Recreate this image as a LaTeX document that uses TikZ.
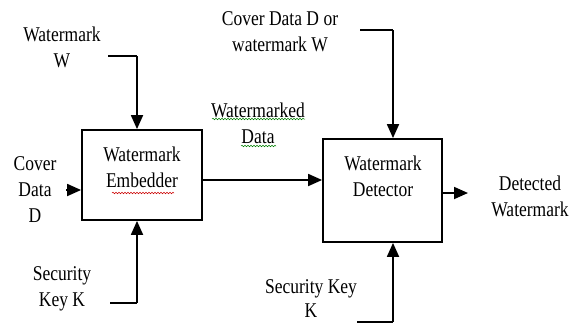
\documentclass[tikz,border=0pt]{standalone}
\usepackage{fontspec}
\usepackage{graphicx}
\setmainfont{Liberation Serif}
\usetikzlibrary{arrows.meta,decorations.pathmorphing}
\newcommand{\st}[1]{\scalebox{1}[1.2]{#1}}
\begin{document}
\begin{tikzpicture}[x=1pt,y=-1pt,
  lbl/.style={align=center,font=\fontsize{17.5}{26}\selectfont,inner sep=0pt},
  blk/.style={draw,line width=1.8pt,inner sep=0pt},
  ln/.style={line width=1.8pt},
  arr/.style={line width=1.8pt,-{Triangle[width=12pt,length=14pt]}},
  squig/.style={decorate,decoration={snake,amplitude=0.8pt,segment length=3pt},line width=0.5pt}]
\useasboundingbox (0,0) rectangle (580,324);
\fill[white] (0,0) rectangle (580,324);
% blocks
\node[blk,minimum width=120pt,minimum height=90pt] (emb) at (142,175) {};
\node[lbl] (embt) at (142,167) {\st{Watermark}\\\st{Embedder}};
\node[blk,minimum width=119pt,minimum height=103pt] (det) at (382.5,190.5) {};
\node[lbl] (dett) at (383,176) {\st{Watermark}\\\st{Detector}};
% labels
\node[lbl] (wm) at (62,47) {\st{Watermark}\\\st{W}};
\node[lbl] (cov) at (35,190) {\st{Cover}\\\st{Data}\\\st{D}};
\node[lbl] (sk1) at (62,289) {\st{Security}\\\st{Key K}};
\node[lbl,font=\fontsize{17.5}{24}\selectfont] (sk2) at (311,299) {\st{Security Key}\\\st{K}};
\node[lbl] (wd) at (258,123) {\st{Watermarked}\\\st{Data}};
\node[lbl] (cdw) at (280,32) {\st{Cover Data D or}\\\st{watermark W}};
\node[lbl] (dw) at (530,196) {\st{Detected}\\\st{Watermark}};
% coordinates
\coordinate (w1) at (108,56);
\coordinate (w2) at (137,56);
\coordinate (k1) at (110,303);
\coordinate (k2) at (137,303);
\coordinate (c1) at (360,30);
\coordinate (c2) at (393,30);
\coordinate (s1) at (357,322);
\coordinate (s2) at (393,322);
\coordinate (cd) at (66,190);
\coordinate (out) at (468,193);
% connectors
\draw[ln] (w1) -- (w2);
\draw[arr] (w2) -- (emb.north -| w2);
\draw[ln] (k1) -- (k2);
\draw[arr] (k2) -- (emb.south -| k2);
\draw[arr] (cd) -- (emb.west |- cd);
\draw[arr] (emb.east |- 0,180) -- (det.west |- 0,180);
\draw[ln] (c1) -- (c2);
\draw[arr] (c2) -- (det.north -| c2);
\draw[ln] (s1) -- (s2);
\draw[arr] (s2) -- (det.south -| s2);
\draw[arr] (det.east |- out) -- (out);
% spell-check squiggles
\draw[squig,red!80!black] (112,193) -- (174,193);
\draw[squig,green!50!black] (212,119) -- (305,119);
\draw[squig,green!50!black] (241,146) -- (276,146);
\end{tikzpicture}
\end{document}
